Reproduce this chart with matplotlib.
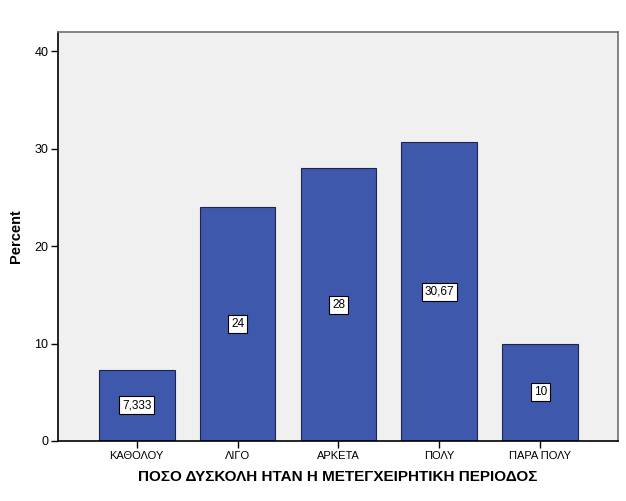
import matplotlib.pyplot as plt

categories = ['ΚΑΘΟΛΟΥ', 'ΛΙΓΟ', 'ΑΡΚΕΤΑ', 'ΠΟΛΥ', 'ΠΑΡΑ ΠΟΛΥ']
percents = [7.333, 24, 28, 30.67, 10]
value_labels = ['7,333', '24', '28', '30,67', '10']
y_ticks = [0, 10, 20, 30, 40]


def main():
    plt.rcParams['font.family'] = ['Liberation Sans', 'DejaVu Sans']
    fig = plt.figure(figsize=(6.26, 5.01), dpi=100)
    ax = fig.add_axes([0.0927, 0.1198, 0.8943, 0.8164])
    ax.set_facecolor('#f0f0f0')

    x = range(len(categories))
    ax.bar(x, percents, width=0.75, color='#3e58ac', edgecolor='#1c2550', linewidth=0.8, zorder=2)

    # value labels in the middle of each bar
    for xi, v, lab in zip(x, percents, value_labels):
        ax.text(xi, v / 2, lab, ha='center', va='center', fontsize=8.5, zorder=3,
                bbox=dict(boxstyle='square,pad=0.25', facecolor='white', edgecolor='black', linewidth=0.8))

    ax.set_xlim(-0.78, 4.77)
    ax.set_ylim(0, 42)
    ax.set_xticks(list(x))
    ax.set_xticklabels(categories, fontsize=8)
    ax.set_yticks(y_ticks)
    ax.set_yticklabels([str(t) for t in y_ticks], fontsize=9)
    ax.tick_params(direction='out', length=5, width=1, color='black', pad=2)

    ax.spines['left'].set_color('black')
    ax.spines['bottom'].set_color('black')
    ax.spines['top'].set_color('#707070')
    ax.spines['right'].set_color('#707070')
    for s in ax.spines.values():
        s.set_linewidth(1.2)

    ax.set_xlabel('ΠΟΣΟ ΔΥΣΚΟΛΗ ΗΤΑΝ Η ΜΕΤΕΓΧΕΙΡΗΤΙΚΗ ΠΕΡΙΟΔΟΣ', fontsize=11, fontweight='bold', labelpad=7)
    ax.set_ylabel('Percent', fontsize=10.5, fontweight='bold', labelpad=8)

    fig.savefig('out.png', dpi=100)


if __name__ == "__main__":
    main()
